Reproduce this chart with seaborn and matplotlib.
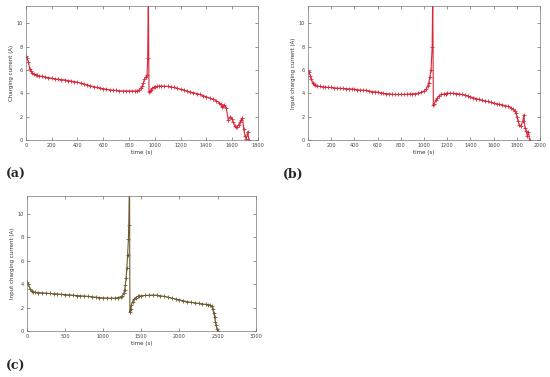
import numpy as np
import pandas as pd
import seaborn as sns
import matplotlib.pyplot as plt

# (a) charging current
time_a = [0, 10, 20, 30, 40, 50, 62, 75, 88, 100, 125, 150, 175, 200, 225, 250, 275,
          300, 325, 350, 375, 400, 425, 450, 475, 500, 525, 550, 575, 600, 625,
          650, 675, 700, 725, 750, 775, 800, 825, 850, 865, 880, 890, 900, 910,
          920, 930, 940, 945, 950, 955, 962, 970, 980, 990, 1005, 1020, 1035, 1050,
          1075, 1100, 1125, 1150, 1175, 1200, 1225, 1250, 1275, 1300, 1325, 1350,
          1375, 1400, 1425, 1450, 1475, 1500, 1510, 1520, 1530, 1540, 1555, 1570,
          1585, 1600, 1610, 1620, 1630, 1640, 1650, 1660, 1670, 1680, 1690, 1700,
          1710, 1720, 1730]
current_a = [7.2, 7.0, 6.7, 6.1, 5.9, 5.75, 5.68, 5.6, 5.55, 5.5, 5.45, 5.4, 5.35, 5.3,
             5.25, 5.2, 5.18, 5.15, 5.1, 5.05, 5.0, 4.95, 4.88, 4.8, 4.72, 4.65,
             4.58, 4.5, 4.45, 4.4, 4.35, 4.3, 4.27, 4.25, 4.22, 4.2, 4.2, 4.2, 4.2,
             4.2, 4.22, 4.3, 4.42, 4.6, 4.85, 5.2, 5.4, 5.6, 7.0, 13.0, 4.1, 4.2,
             4.3, 4.42, 4.5, 4.56, 4.6, 4.62, 4.62, 4.61, 4.6, 4.55, 4.5, 4.42,
             4.35, 4.28, 4.2, 4.12, 4.05, 3.98, 3.9, 3.8, 3.7, 3.6, 3.5, 3.38, 3.2,
             3.05, 2.8, 2.95, 3.0, 2.7, 1.7, 2.0, 1.8, 1.5, 1.2, 1.1, 1.1, 1.3, 1.5,
             1.75, 1.9, 0.9, 0.3, 0.1, 0.7, 0.0]

# (b) input charging current
time_b = [0, 10, 20, 30, 40, 50, 60, 80, 100, 125, 150, 175, 200, 225, 250, 275, 300,
          325, 350, 375, 400, 425, 450, 475, 500, 525, 550, 575, 600, 625, 650,
          675, 700, 725, 750, 775, 800, 825, 850, 875, 900, 925, 950, 975, 1000,
          1015, 1030, 1040, 1050, 1060, 1070, 1075, 1080, 1090, 1100, 1115, 1130,
          1150, 1170, 1185, 1200, 1225, 1250, 1275, 1300, 1325, 1350, 1375, 1400,
          1425, 1450, 1475, 1500, 1525, 1550, 1575, 1600, 1625, 1650, 1675, 1700,
          1725, 1750, 1765, 1780, 1790, 1800, 1810, 1820, 1835, 1850, 1860, 1870,
          1880, 1890, 1900, 1910]
current_b = [5.9, 5.8, 5.5, 5.2, 4.9, 4.78, 4.7, 4.64, 4.6, 4.56, 4.53, 4.51, 4.5,
             4.47, 4.45, 4.43, 4.42, 4.4, 4.38, 4.37, 4.35, 4.31, 4.28, 4.26, 4.25,
             4.2, 4.15, 4.12, 4.1, 4.05, 4.0, 3.97, 3.95, 3.92, 3.9, 3.9, 3.9, 3.9,
             3.92, 3.94, 3.95, 3.97, 4.0, 4.08, 4.2, 4.35, 4.6, 4.9, 5.4, 6.0, 8.0,
             13.0, 3.0, 3.1, 3.4, 3.6, 3.8, 3.9, 3.95, 3.98, 4.0, 4.0, 4.0, 3.98,
             3.95, 3.9, 3.85, 3.78, 3.7, 3.62, 3.55, 3.48, 3.4, 3.35, 3.3, 3.22,
             3.15, 3.1, 3.05, 3.0, 2.95, 2.87, 2.75, 2.65, 2.5, 2.3, 2.0, 1.6, 1.3,
             1.2, 1.6, 2.15, 1.0, 0.8, 0.3, 0.7, 0.0]

# (c) input charging current
time_c = [0, 20, 40, 60, 80, 100, 150, 200, 250, 300, 350, 400, 450, 500, 550, 600,
          650, 700, 750, 800, 850, 900, 950, 1000, 1050, 1100, 1150, 1200, 1230,
          1250, 1270, 1280, 1290, 1300, 1310, 1320, 1330, 1335, 1345, 1350, 1360,
          1370, 1385, 1400, 1425, 1450, 1475, 1500, 1550, 1600, 1650, 1700, 1750,
          1800, 1850, 1900, 1950, 2000, 2050, 2100, 2150, 2200, 2250, 2300, 2350,
          2380, 2400, 2420, 2435, 2450, 2460, 2470, 2480, 2490, 2500]
current_c = [4.15, 4.0, 3.6, 3.4, 3.35, 3.3, 3.28, 3.25, 3.22, 3.2, 3.18, 3.15, 3.12,
             3.1, 3.08, 3.05, 3.02, 3.0, 2.98, 2.95, 2.92, 2.88, 2.85, 2.82, 2.81,
             2.8, 2.8, 2.85, 2.92, 3.0, 3.2, 3.5, 3.9, 4.5, 5.4, 6.5, 7.8, 9.0,
             13.0, 1.6, 1.9, 2.2, 2.5, 2.7, 2.85, 2.95, 2.98, 3.0, 3.03, 3.05, 3.06,
             3.05, 3.0, 2.95, 2.88, 2.8, 2.72, 2.65, 2.58, 2.5, 2.45, 2.4, 2.35,
             2.3, 2.27, 2.25, 2.22, 2.1, 1.9, 1.5, 1.2, 0.8, 0.5, 0.2, 0.0]

sns.set_style('ticks')
plt.rcParams['font.family'] = ['DejaVu Sans']

fig = plt.figure(figsize=(5.5, 3.77), dpi=100)

panels = [
    (time_a, current_a, [0.047, 0.629, 0.422, 0.355], 1800, 200,
     'Charging current (A)', '#d8283a', '(a)', (0.01, 0.52)),
    (time_b, current_b, [0.560, 0.629, 0.422, 0.355], 2000, 200,
     'Input charging current (A)', '#d8283a', '(b)', (0.515, 0.52)),
    (time_c, current_c, [0.049, 0.122, 0.416, 0.358], 3000, 500,
     'Input charging current (A)', '#6e5a30', '(c)', (0.01, 0.01)),
]

for t, cur, rect, xmax, xstep, ylab, color, tag, tagpos in panels:
    ax = fig.add_axes(rect)
    df = pd.DataFrame({'time': t, 'current': cur})
    sns.lineplot(data=df, x='time', y='current', ax=ax, color=color, lw=0.8,
                 marker='+', markersize=2.5, markeredgewidth=0.6, mec=color)
    ax.set_xlim(0, xmax)
    ax.set_ylim(0, 11.5)
    ax.set_xticks(np.arange(0, xmax + 1, xstep))
    ax.set_yticks(np.arange(0, 11, 2))
    ax.set_xlabel('time (s)', fontsize=4, color='#333333', labelpad=1.5)
    ax.set_ylabel(ylab, fontsize=4, color='#333333', labelpad=2)
    ax.tick_params(direction='in', length=2, width=0.4, labelsize=3.6,
                   colors='#444444', top=True, right=True, pad=2)
    for s in ax.spines.values():
        s.set_linewidth(0.5)
        s.set_color('#777777')
    fig.text(tagpos[0], tagpos[1], tag, fontsize=9, fontweight='bold',
             family='DejaVu Serif', va='bottom')

fig.savefig('out.png', dpi=100)
